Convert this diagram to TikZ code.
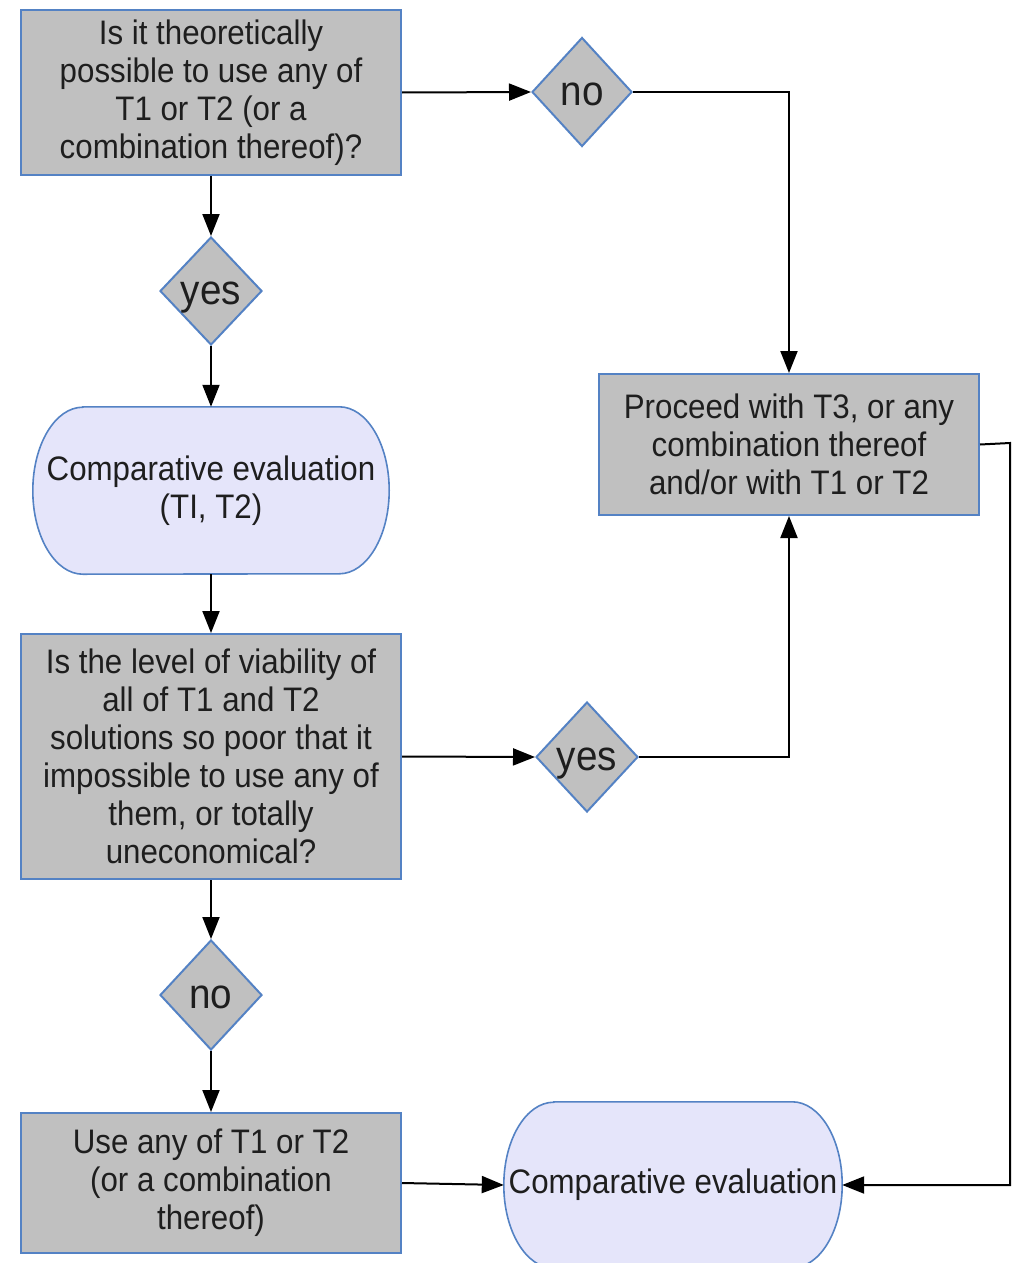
\documentclass[tikz,border=0pt]{standalone}
\usepackage{fontspec}
\setmainfont{Liberation Sans}[FakeStretch=0.92]
\usetikzlibrary{shapes.geometric,arrows.meta,backgrounds}
\definecolor{bordblue}{RGB}{84,130,196}
\definecolor{boxgray}{RGB}{192,192,192}
\definecolor{lav}{RGB}{229,229,250}
\definecolor{txt}{RGB}{30,30,30}
\newcommand\stadpath[3]{%
  \path[stadline] ([xshift=#2]#1.north west) -- ([xshift=-#2]#1.north east)
    arc[start angle=90,end angle=-90,x radius=#2,y radius=#3]
    -- ([xshift=#2]#1.south west)
    arc[start angle=270,end angle=90,x radius=#2,y radius=#3] -- cycle;}
\begin{document}
\begin{tikzpicture}[x=1pt,y=-1pt,
  every node/.style={text=txt,font=\fontsize{34}{38}\selectfont,align=center,inner sep=0pt},
  box/.style={draw=bordblue,fill=boxgray,line width=2pt,minimum width=380pt},
  dia/.style={diamond,draw=bordblue,fill=boxgray,line width=2pt,font=\fontsize{42}{46}\selectfont,text height=26pt,text depth=0pt},
  stad/.style={draw=none},
  stadline/.style={draw=bordblue,fill=lav,line width=1.6pt},
  arr/.style={draw=black,line width=2pt,-{Triangle[length=22pt,width=17pt]}},
  ln/.style={draw=black,line width=2pt}]
\useasboundingbox (0,0) rectangle (1015,1263);
\node[box,minimum height=165pt] (q1) at (211,92.5) {Is it theoretically\\possible to use any of\\T1 or T2 (or a\\combination thereof)?};
\node[dia,minimum width=100pt,minimum height=109pt] (no1) at (582,92) {no};
\node[dia,minimum width=102pt,minimum height=108pt] (yes1) at (211,291) {yes};
\node[stad,minimum width=356pt,minimum height=167pt] (ce1) at (211,490.5) {Comparative evaluation\\(TI, T2)};
\node[box,minimum height=245pt] (q2) at (211,756.5) {Is the level of viability of\\all of T1 and T2\\solutions so poor that it\\impossible to use any of\\them, or totally\\uneconomical?};
\node[dia,minimum width=102pt,minimum height=110pt] (yes2) at (587,757) {yes};
\node[dia,minimum width=102pt,minimum height=110pt] (no2) at (211,995) {no};
\node[box,minimum height=140pt] (use) at (211,1183) {Use any of T1 or T2\\(or a combination\\thereof)};
\node[box,minimum height=141pt] (proc) at (789,444.5) {Proceed with T3, or any\\combination thereof\\and/or with T1 or T2};
\node[stad,minimum width=338pt,minimum height=166pt] (ce2) at (673,1185) {Comparative evaluation};
\begin{scope}[on background layer]
\stadpath{ce1}{50pt}{83.5pt}
\stadpath{ce2}{50pt}{83pt}
\end{scope}
\coordinate (rt) at (1010,443);
\draw[arr] (q1.east) -- (no1.west);
\draw[arr] (no1.east) -| (proc.north);
\draw[arr] (q1.south) -- (yes1.north);
\draw[arr] (yes1.south) -- (ce1.north);
\draw[arr] (ce1.south) -- (q2.north);
\draw[arr] (q2.east) -- (yes2.west);
\draw[arr] (yes2.east) -| (proc.south);
\draw[arr] (q2.south) -- (no2.north);
\draw[arr] (no2.south) -- (use.north);
\draw[arr] (use.east) -- (ce2.west);
\draw[arr] (proc.east) -- (rt) |- (ce2.east);
\end{tikzpicture}
\end{document}
